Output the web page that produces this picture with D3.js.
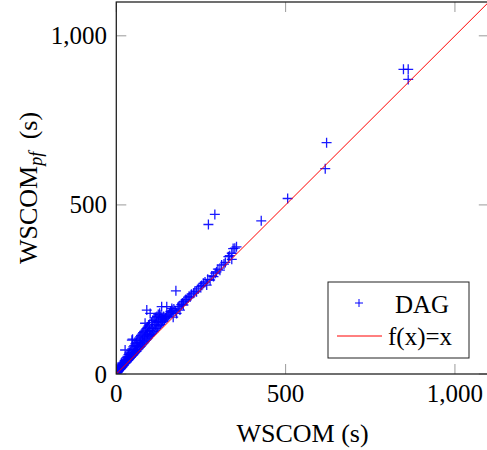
<!DOCTYPE html>
<html>
<head>
<meta charset="utf-8">
<script src="https://cdn.jsdelivr.net/npm/d3@7"></script>
<style>
  html, body { margin: 0; padding: 0; background: #fff; }
  svg { display: block; }
  text { font-family: "Liberation Serif", "DejaVu Serif", serif; fill: #000; }
</style>
</head>
<body>
<svg id="chart" width="487" height="450"></svg>
<script>
// WSCOM (s) on x, WSCOM_pf (s) on y
const wscom = [
  2,3,4,5,6,7,8,9,10,11,12,13,14,15,16,17,18,19,20,5,8,12,15,
  22,22,24,25,26,27,28,30,30,32,33,35,36,38,38,40,41,43,44,45,46,47,48,48,50,50,
  52,53,55,56,58,59,60,61,63,64,66,67,69,70,72,73,75,76,78,79,81,82,84,85,86,88,89,91,92,94,95,97,98,100,100,
  55,62,70,77,84,92,99,90,
  103,104,106,108,110,112,114,116,118,119,120,122,124,126,128,129,130,132,134,136,138,140,142,144,146,148,149,
  107,115,125,135,134,164,
  152,155,158,160,163,165,168,170,176,174,178,182,185,188,192,195,198,200,
  205,208,212,215,218,222,228,232,237,242,248,252,257,262,267,270,272,277,282,287,291,292,296,300,306,
  311,318,322,331,335,341,341,345,350,355,
  428,506,617,621,848,862,862
];
const wscomPf = [
  3,6,5,9,8,12,10,15,13,18,14,20,17,24,19,27,21,30,24,14,20,26,32,
  26,35,29,40,71,32,44,35,48,38,52,40,57,44,62,46,65,49,70,52,100,74,55,103,57,80,
  60,84,63,89,66,92,68,98,72,100,75,106,79,110,82,114,86,118,89,122,92,126,96,150,130,100,134,104,138,107,142,111,146,114,179,
  72,82,93,100,110,118,128,189,
  117,152,121,158,125,160,130,166,134,155,170,139,176,143,180,174,147,168,152,160,156,170,160,165,166,172,199,
  135,145,155,165,199,194,
  170,175,178,185,182,188,168,192,246,186,179,195,200,189,205,210,204,215,
  220,219,225,230,228,236,239,245,243,252,258,262,268,272,263,280,442,278,290,288,472,298,302,310,307,
  322,325,330,347,350,339,357,371,372,376,
  453,519,607,684,901,901,871
];
const xTicks = [0, 500, 1000];
const yTicks = [0, 500, 1000];
const legendLabels = ["DAG", "f(x)=x"];
const lineDomain = [0, 1100];

const svg = d3.select("#chart");
const x = d3.scaleLinear().domain([0, 1100]).range([116.3, 488.8]);
const y = d3.scaleLinear().domain([0, 1100]).range([374, 2]);
const fmt = d3.format(",");

const plot = svg.append("g");
svg.append("defs").append("clipPath").attr("id", "clip")
  .append("rect").attr("x", x(0)).attr("y", y(1100)).attr("width", x(1100) - x(0)).attr("height", y(0) - y(1100));

// Ticks (inside, gray) on all four sides
const tickLen = 10;
const tickColor = "#9a9a9a";
xTicks.forEach(t => {
  plot.append("line").attr("x1", x(t)).attr("x2", x(t)).attr("y1", y(0)).attr("y2", y(0) - tickLen)
    .attr("stroke", tickColor).attr("stroke-width", 1);
  plot.append("line").attr("x1", x(t)).attr("x2", x(t)).attr("y1", y(1100)).attr("y2", y(1100) + tickLen)
    .attr("stroke", tickColor).attr("stroke-width", 1);
});
yTicks.forEach(t => {
  plot.append("line").attr("x1", x(0)).attr("x2", x(0) + tickLen).attr("y1", y(t)).attr("y2", y(t))
    .attr("stroke", tickColor).attr("stroke-width", 1);
  plot.append("line").attr("x1", x(1100)).attr("x2", x(1100) - tickLen).attr("y1", y(t)).attr("y2", y(t))
    .attr("stroke", tickColor).attr("stroke-width", 1);
});

// points
const data = wscom.map((v, i) => ({ x: v, y: wscomPf[i] }));
const arm = 5;
const pts = plot.append("g").attr("clip-path", "url(#clip)");
pts.selectAll("path.pt").data(data).enter().append("path")
  .attr("class", "pt")
  .attr("d", d => `M${x(d.x) - arm},${y(d.y)}H${x(d.x) + arm}M${x(d.x)},${y(d.y) - arm}V${y(d.y) + arm}`)
  .attr("stroke", "#0000ff").attr("stroke-width", 1.3).attr("fill", "none").attr("stroke-opacity", 0.9);

// f(x)=x
const line = d3.line().x(d => x(d)).y(d => y(d));
pts.append("path").datum(lineDomain).attr("d", line)
  .attr("stroke", "#ff0000").attr("stroke-width", 1).attr("fill", "none");

// frame
plot.append("rect").attr("x", x(0)).attr("y", y(1100)).attr("width", x(1100) - x(0)).attr("height", y(0) - y(1100))
  .attr("fill", "none").attr("stroke", "#222").attr("stroke-width", 1.3);

// tick labels
svg.selectAll("text.xt").data(xTicks).enter().append("text")
  .attr("class", "xt").attr("x", d => x(d)).attr("y", 402)
  .attr("text-anchor", "middle").attr("font-size", 25).text(d => fmt(d));
svg.selectAll("text.yt").data(yTicks).enter().append("text")
  .attr("class", "yt").attr("x", 107).attr("y", d => y(d) + 8.5)
  .attr("text-anchor", "end").attr("font-size", 25).text(d => fmt(d));

// axis titles
svg.append("text").attr("x", (x(0) + x(1100)) / 2).attr("y", 442)
  .attr("text-anchor", "middle").attr("font-size", 26).text("WSCOM (s)");

const yt = svg.append("text").attr("transform", `translate(37,${(y(0) + y(1100)) / 2}) rotate(-90)`)
  .attr("text-anchor", "middle").attr("font-size", 26);
yt.append("tspan").text("WSCOM");
yt.append("tspan").attr("font-style", "italic").attr("font-size", 18).attr("dy", 5).text("pf");
yt.append("tspan").attr("dy", -5).attr("dx", 6).text(" (s)");

// legend
const lg = svg.append("g");
lg.append("rect").attr("x", 328).attr("y", 282).attr("width", 141).attr("height", 76)
  .attr("fill", "#fff").attr("stroke", "#222").attr("stroke-width", 1);
lg.append("path").attr("d", `M${359 - 4},303H${359 + 4}M359,${303 - 4}V${303 + 4}`)
  .attr("stroke", "#0000ff").attr("stroke-width", 1);
lg.append("text").attr("x", 395).attr("y", 313).attr("font-size", 25).text(legendLabels[0]);
lg.append("line").attr("x1", 337).attr("x2", 382).attr("y1", 336).attr("y2", 336)
  .attr("stroke", "#ff0000").attr("stroke-width", 1);
lg.append("text").attr("x", 388).attr("y", 345).attr("font-size", 25).text(legendLabels[1]);
</script>
</body>
</html>
